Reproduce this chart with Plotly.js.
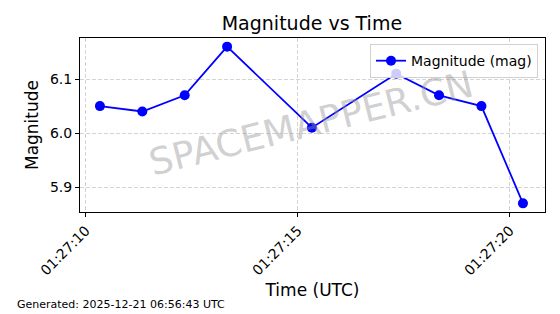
<!DOCTYPE html>
<html><head><meta charset="utf-8">
<script src="https://cdn.plot.ly/plotly-3.0.1.min.js"></script>
<style>html,body{margin:0;padding:0;background:#fff}#chart{width:560px;height:314px}</style>
</head><body><div id="chart"></div>
<script>
const times = ["2025-12-21 01:27:10.33","2025-12-21 01:27:11.33","2025-12-21 01:27:12.33","2025-12-21 01:27:13.33","2025-12-21 01:27:15.33","2025-12-21 01:27:17.32","2025-12-21 01:27:18.33","2025-12-21 01:27:19.33","2025-12-21 01:27:20.31"];
const magnitudes = [6.05, 6.04, 6.07, 6.16, 6.01, 6.11, 6.07, 6.05, 5.87];
const xTickVals = ["2025-12-21 01:27:10","2025-12-21 01:27:15","2025-12-21 01:27:20"];
const xTickText = ["01:27:10","01:27:15","01:27:20"];
const yTickVals = [5.9, 6.0, 6.1];
const yTickText = ["5.9","6.0","6.1"];

const font = "DejaVu Sans, sans-serif";
Plotly.newPlot("chart", [{
  x: times, y: magnitudes, type: "scatter", mode: "lines+markers",
  name: "Magnitude (mag)",
  line: {color: "#0000ff", width: 1.8},
  marker: {color: "#0000ff", size: 10}
}], {
  width: 560, height: 314,
  margin: {l: 80, r: 15, t: 38, b: 102},
  paper_bgcolor: "#fff", plot_bgcolor: "#fff",
  font: {family: font, color: "#000"},
  title: {text: "Magnitude vs Time", font: {size: 19, family: font}, x: 0.557, xanchor: "center", y: 0.925, yanchor: "middle"},
  xaxis: {
    type: "date", range: ["2025-12-21 01:27:09.86", "2025-12-21 01:27:20.83"],
    tickvals: xTickVals, ticktext: xTickText, tickangle: -45,
    ticks: "outside", ticklen: 4, tickcolor: "#000",
    showline: true, linecolor: "#000", linewidth: 1, mirror: true,
    showgrid: true, gridcolor: "#d4d4d4", griddash: "4px,2px", gridwidth: 1,
    zeroline: false, tickfont: {size: 14, family: font},
    title: {text: "Time (UTC)", font: {size: 17, family: font}, standoff: 6}
  },
  yaxis: {
    range: [5.854, 6.176],
    tickvals: yTickVals, ticktext: yTickText,
    ticks: "outside", ticklen: 4, tickcolor: "#000",
    showline: true, linecolor: "#000", linewidth: 1, mirror: true,
    showgrid: true, gridcolor: "#d4d4d4", griddash: "4px,2px", gridwidth: 1,
    zeroline: false, tickfont: {size: 14, family: font},
    title: {text: "Magnitude", font: {size: 17, family: font}, standoff: 6}
  },
  showlegend: true,
  legend: {x: 0.985, xanchor: "right", y: 0.965, yanchor: "top", bgcolor: "rgba(255,255,255,0.8)", bordercolor: "#d0d0d0", borderwidth: 1, font: {size: 14, family: font}},
  annotations: [
    {text: "SPACEMAPPER.CN", xref: "paper", yref: "paper", x: 0.497, y: 0.51, showarrow: false, textangle: -14, font: {size: 37, family: font, color: "rgba(150,150,150,0.45)"}},
    {text: "Generated: 2025-12-21 06:56:43 UTC", xref: "paper", yref: "paper", x: -0.14, y: -0.534, xanchor: "left", yanchor: "middle", showarrow: false, font: {size: 11, family: font}}
  ]
}, {displayModeBar: false, staticPlot: true});
</script></body></html>
